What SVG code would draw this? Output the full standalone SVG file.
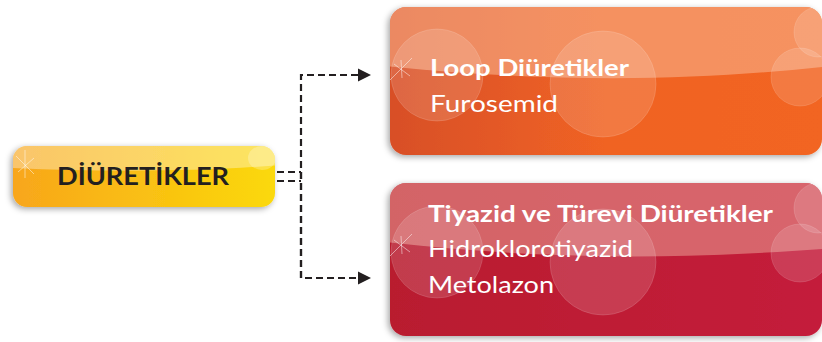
<svg xmlns="http://www.w3.org/2000/svg" width="822" height="342" viewBox="0 0 822 342">
<defs>
<style>
.t{font-family:Lato,"Open Sans","Liberation Sans",sans-serif;fill:#fff}
.b{font-weight:bold}
.c{stroke:#231f20;stroke-width:2.2;fill:none;stroke-dasharray:7 4}
.bub{fill:#fff;fill-opacity:0.14;stroke:#fff;stroke-opacity:0.18;stroke-width:0.8}
.sp{stroke:#fff;stroke-width:0.7;stroke-opacity:0.7}
</style>
<filter id="sh" x="-10%" y="-20%" width="120%" height="140%">
<feDropShadow dx="-2" dy="2" stdDeviation="3" flood-color="#000" flood-opacity="0.35"/>
</filter>
<linearGradient id="gy" x1="0" x2="1" y1="0" y2="0">
<stop offset="0" stop-color="#f8a61b"/><stop offset="1" stop-color="#fbd90a"/>
</linearGradient>
<linearGradient id="go" x1="0" x2="1" y1="0" y2="0">
<stop offset="0" stop-color="#d84f27"/><stop offset="0.5" stop-color="#f06324"/><stop offset="1" stop-color="#f26522"/>
</linearGradient>
<linearGradient id="gr" x1="0" x2="1" y1="0" y2="0">
<stop offset="0" stop-color="#b91d2f"/><stop offset="1" stop-color="#c41f3b"/>
</linearGradient>
<clipPath id="cy"><rect x="13" y="146" width="262" height="61" rx="14"/></clipPath>
<clipPath id="co"><rect x="390" y="7" width="432" height="148" rx="16"/></clipPath>
<clipPath id="cr"><rect x="390" y="183" width="432" height="153" rx="16"/></clipPath>
<marker id="ar" markerWidth="14" markerHeight="14" refX="12" refY="7" orient="auto" markerUnits="userSpaceOnUse">
<path d="M0,0.5 L13,7 L0,13.5 Z" fill="#231f20"/>
</marker>
</defs>

<g id="connectors">
<path class="c" d="M277,172 H301"/>
<path class="c" d="M277,181 H301"/>
<path class="c" d="M301,278 V75 H370" marker-end="url(#ar)"/>
<path class="c" d="M301,172 V278 H370" marker-end="url(#ar)"/>
</g>

<g id="diuretikler">
<rect x="13" y="146" width="262" height="61" rx="14" fill="url(#gy)" filter="url(#sh)"/>
<g clip-path="url(#cy)">
<path d="M13,140 H280 V165 C200,172 100,172 13,168 Z" fill="#fff" fill-opacity="0.35"/>
<ellipse cx="262" cy="158" rx="14" ry="12" fill="#fff" fill-opacity="0.25"/>
</g>
<g class="sp"><path d="M16,156 L34,174 M18,172 L34,158 M25,150 L25,178"/></g>
<text class="t b" x="143" y="185" text-anchor="middle" font-size="24" style="fill:#231f20" textLength="172" lengthAdjust="spacingAndGlyphs">DİÜRETİKLER</text>
</g>

<g id="loop">
<rect x="390" y="7" width="432" height="148" rx="16" fill="url(#go)" filter="url(#sh)"/>
<g clip-path="url(#co)">
<path d="M385,0 H822 V67 C700,80 560,84 385,66 Z" fill="#f8b08a" fill-opacity="0.6"/>
<circle class="bub" cx="437" cy="75" r="46"/>
<circle class="bub" cx="603" cy="84" r="53"/>
<circle class="bub" cx="800" cy="77" r="29"/>
<ellipse class="bub" cx="818" cy="32" rx="24" ry="25"/>
</g>
<g class="sp"><path d="M390,80 L412,58 M394,64 L410,76 M401,60 L402,78"/></g>
<text class="t b" x="430" y="76" font-size="23" textLength="199" lengthAdjust="spacingAndGlyphs">Loop Diüretikler</text>
<text class="t" x="430" y="112" font-size="23" textLength="128" lengthAdjust="spacingAndGlyphs">Furosemid</text>
</g>

<g id="tiyazid">
<rect x="390" y="183" width="432" height="153" rx="16" fill="url(#gr)" filter="url(#sh)"/>
<g clip-path="url(#cr)">
<path d="M385,176 H822 V249 C700,258 560,262 385,242 Z" fill="#e9a095" fill-opacity="0.55"/>
<circle class="bub" cx="437" cy="252" r="46"/>
<circle class="bub" cx="603" cy="262" r="53"/>
<circle class="bub" cx="800" cy="253" r="29"/>
<ellipse class="bub" cx="818" cy="208" rx="24" ry="25"/>
</g>
<g class="sp"><path d="M390,256 L412,234 M394,240 L410,252 M401,236 L402,254"/></g>
<text class="t b" x="428" y="222" font-size="23" textLength="345" lengthAdjust="spacingAndGlyphs">Tiyazid ve Türevi Diüretikler</text>
<text class="t" x="428" y="257" font-size="23" textLength="205" lengthAdjust="spacingAndGlyphs">Hidroklorotiyazid</text>
<text class="t" x="428" y="293" font-size="23" textLength="126" lengthAdjust="spacingAndGlyphs">Metolazon</text>
</g>
</svg>
